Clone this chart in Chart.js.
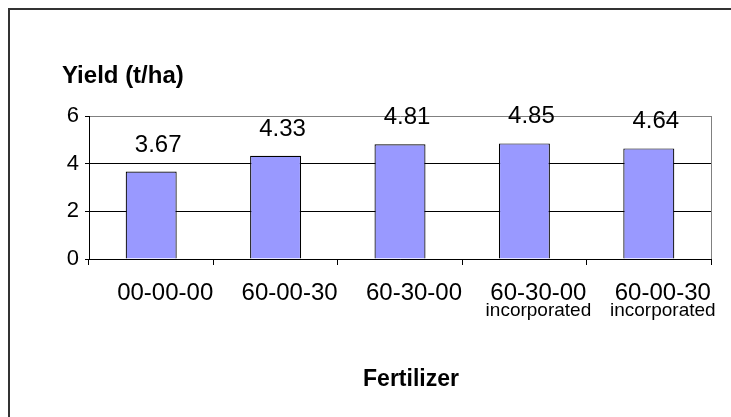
<!DOCTYPE html>
<html>
<head>
<meta charset="utf-8">
<script src="https://cdn.jsdelivr.net/npm/chart.js@4.4.1/dist/chart.umd.min.js"></script>
<style>
html,body{margin:0;padding:0;background:#fff;}
#wrap{width:731px;height:417px;position:relative;}
</style>
</head>
<body>
<div id="wrap"><canvas id="c" width="731" height="417"></canvas></div>
<script>
const categories = ["00-00-00", "60-00-30", "60-30-00", "60-30-00", "60-00-30"];
const subLabels = ["", "", "", "incorporated", "incorporated"];
const yieldValues = [3.67, 4.33, 4.81, 4.85, 4.64];
const yTicks = [0, 2, 4, 6];
const yTitle = "Yield (t/ha)";
const xTitle = "Fertilizer";

const FONT = "'Liberation Sans', Arial, sans-serif";

const decor = {
  id: 'decor',
  beforeDraw(chart) {
    const ctx = chart.ctx;
    ctx.save();
    ctx.fillStyle = '#fff';
    ctx.fillRect(0, 0, chart.width, chart.height);
    ctx.strokeStyle = '#333';
    ctx.lineWidth = 2;
    ctx.beginPath();
    ctx.moveTo(9, chart.height + 2);
    ctx.lineTo(9, 9);
    ctx.lineTo(chart.width + 2, 9);
    ctx.stroke();
    ctx.restore();
  },
  afterDraw(chart) {
    const ctx = chart.ctx;
    const ca = chart.chartArea;
    const xs = chart.scales.x;
    ctx.save();
    // right border of plot area
    ctx.strokeStyle = '#808080';
    ctx.lineWidth = 1;
    ctx.beginPath();
    ctx.moveTo(Math.round(ca.right) + 0.5, ca.top);
    ctx.lineTo(Math.round(ca.right) + 0.5, ca.bottom);
    ctx.stroke();
    // value labels
    ctx.fillStyle = '#000';
    ctx.textAlign = 'center';
    ctx.textBaseline = 'alphabetic';
    ctx.font = "24px " + FONT;
    const meta = chart.getDatasetMeta(0);
    meta.data.forEach((bar, i) => {
      ctx.fillText(yieldValues[i].toFixed(2), bar.x + 7, bar.y - 20);
    });
    // second line of category labels
    ctx.font = "19px " + FONT;
    subLabels.forEach((s, i) => {
      if (s) ctx.fillText(s, xs.getPixelForValue(i) + 14, 316);
    });
    // axis titles
    ctx.font = "bold 24px " + FONT;
    ctx.textAlign = 'left';
    ctx.fillText(yTitle, 62, 83);
    ctx.font = "bold 23px " + FONT;
    ctx.textAlign = 'center';
    ctx.fillText(xTitle, 411, 386);
    ctx.restore();
  }
};

new Chart(document.getElementById('c'), {
  type: 'bar',
  data: {
    labels: categories,
    datasets: [{
      data: yieldValues,
      backgroundColor: '#9999FF',
      borderColor: '#000',
      borderWidth: 1.2,
      categoryPercentage: 1,
      barPercentage: 0.41
    }]
  },
  options: {
    responsive: false,
    animation: false,
    devicePixelRatio: 1,
    layout: { padding: { top: 116, right: 20, left: 0, bottom: 0 } },
    plugins: { legend: { display: false }, tooltip: { enabled: false }, title: { display: false } },
    scales: {
      x: {
        grid: { drawOnChartArea: false, offset: true, tickLength: 6, color: '#000', lineWidth: 1 },
        border: { color: '#000', width: 1 },
        ticks: { color: '#000', font: { size: 24, family: FONT }, labelOffset: 14, padding: 14, maxRotation: 0, autoSkip: false },
        afterFit(s) { s.height = 158; }
      },
      y: {
        min: 0, max: 6,
        afterBuildTicks(s) { s.ticks = yTicks.map(v => ({ value: v })); },
        grid: {
          color: (c) => (c.tick && c.tick.value === 6) ? '#808080' : '#000',
          tickColor: '#000',
          tickLength: 4, lineWidth: 1
        },
        border: { color: '#000', width: 1 },
        ticks: { color: '#000', font: { size: 22, family: FONT }, padding: 6 },
        afterFit(s) { s.width = 89; }
      }
    }
  },
  plugins: [decor]
});
</script>
</body>
</html>
